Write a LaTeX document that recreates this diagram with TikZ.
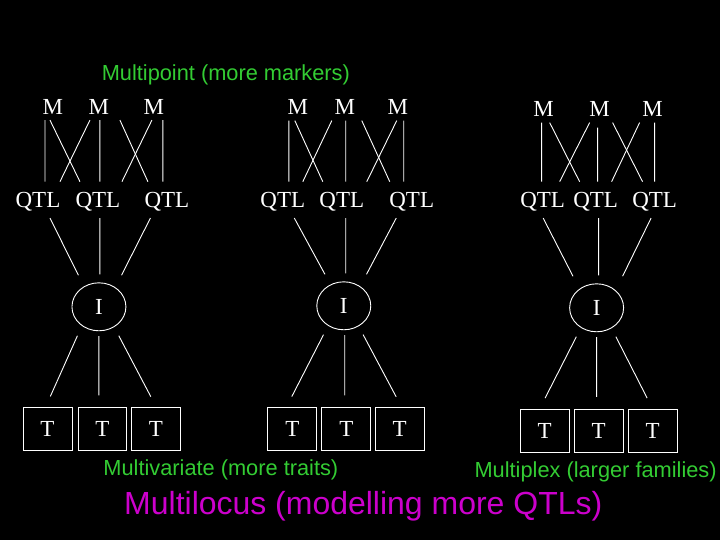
\documentclass[tikz,border=0pt]{standalone}
\usepackage{fontspec}
\setmainfont{Liberation Serif}
\newfontfamily\labelfont{Liberation Sans}
\usepackage{xcolor}
\usetikzlibrary{shapes.geometric}
\definecolor{labelgreen}{RGB}{51,204,51}
\definecolor{titlemagenta}{RGB}{204,0,204}

\begin{document}
\begin{tikzpicture}[
  x=1bp, y=-1bp,
  every node/.style={text=white, font=\fontsize{23bp}{27bp}\selectfont},
  marker/.style={inner xsep=2bp, inner ysep=5.5bp, text height=15bp, text depth=0bp},
  qtl/.style={inner xsep=2bp, inner ysep=10.5bp, text height=15bp, text depth=0bp},
  index/.style={
    draw=white, ellipse, line width=0.9bp, inner sep=0pt,
    minimum width=54bp, minimum height=48bp
  },
  trait/.style={
    draw=white, rectangle, line width=0.9bp, inner sep=0pt,
    minimum width=49bp, minimum height=43bp
  },
  link/.style={draw=white, line width=0.9bp},
  uplink/.style={link, shorten >=8bp},
  downlink/.style={link, shorten <=5bp, shorten >=12bp},
  caption/.style={anchor=base, text=labelgreen, font=\labelfont\fontsize{21.8bp}{26bp}\selectfont},
  title/.style={anchor=base, text=titlemagenta, font=\labelfont\fontsize{32bp}{38bp}\selectfont}
]
  \fill[black] (0,0) rectangle (720,540);

  \node[caption] (multipoint) at (226,81) {Multipoint (more markers)};
  \node[caption] (multivariate) at (221,476) {Multivariate (more traits)};
  \node[caption] (multiplex) at (596,478) {Multiplex (larger families)};
  \node[title] (multilocus) at (363.5,515) {Multilocus (modelling more QTLs)};

  \node[marker] (ma1) at (53,107) {M};
  \node[marker] (ma2) at (99,107) {M};
  \node[marker] (ma3) at (154,107) {M};
  \node[qtl] (qa1) at (38,200) {QTL};
  \node[qtl] (qa2) at (98,200) {QTL};
  \node[qtl] (qa3) at (167,200) {QTL};
  \node[index] (ia) at (99,307) {I};
  \node[trait] (ta1) at (47.5,429.5) {T};
  \node[trait] (ta2) at (102.5,429.5) {T};
  \node[trait] (ta3) at (156,429.5) {T};

  \draw[link] ([xshift=-8bp]ma1.south) -- ([xshift=7bp]qa1.north);
  \draw[link] ([xshift=-3bp]ma1.south) -- ([xshift=-18bp]qa2.north);
  \draw[link] ([xshift=-9bp]ma2.south) -- ([xshift=22bp]qa1.north);
  \draw[link] ([xshift=1bp]ma2.south) -- ([xshift=2bp]qa2.north);
  \draw[link] ([xshift=21bp]ma2.south) -- ([xshift=-19bp]qa3.north);
  \draw[link] ([xshift=-2bp]ma3.south) -- ([xshift=24bp]qa2.north);
  \draw[link] ([xshift=9bp]ma3.south) -- ([xshift=-4bp]qa3.north);
  \draw[uplink] ([xshift=12bp]qa1.south) -- ([xshift=-17bp]ia.north);
  \draw[uplink] ([xshift=2bp]qa2.south) -- ([xshift=1bp]ia.north);
  \draw[uplink] ([xshift=-16.5bp]qa3.south) -- ([xshift=19bp]ia.north);
  \draw[downlink] ([xshift=-19.5bp]ia.south) -- ([xshift=-2bp]ta1.north);
  \draw[downlink] (ia.south) -- ([xshift=-3.5bp]ta2.north);
  \draw[downlink] ([xshift=17.5bp]ia.south) -- ([xshift=0.5bp]ta3.north);

  \node[marker] (mb1) at (298,107.5) {M};
  \node[marker] (mb2) at (345,107.5) {M};
  \node[marker] (mb3) at (398,107.5) {M};
  \node[qtl] (qb1) at (283,200) {QTL};
  \node[qtl] (qb2) at (342,200) {QTL};
  \node[qtl] (qb3) at (412,200) {QTL};
  \node[index] (ib) at (344,306) {I};
  \node[trait] (tb1) at (292.5,429.5) {T};
  \node[trait] (tb2) at (346.5,429.5) {T};
  \node[trait] (tb3) at (400,429.5) {T};

  \draw[link] ([xshift=-9bp]mb1.south) -- ([xshift=6bp]qb1.north);
  \draw[link] ([xshift=-3bp]mb1.south) -- ([xshift=-19bp]qb2.north);
  \draw[link] ([xshift=-13bp]mb2.south) -- ([xshift=20bp]qb1.north);
  \draw[link] ([xshift=1bp]mb2.south) -- ([xshift=4bp]qb2.north);
  \draw[link] ([xshift=17bp]mb2.south) -- ([xshift=-22bp]qb3.north);
  \draw[link] ([xshift=-1bp]mb3.south) -- ([xshift=25bp]qb2.north);
  \draw[link] ([xshift=6bp]mb3.south) -- ([xshift=-8bp]qb3.north);
  \draw[uplink] ([xshift=11.5bp]qb1.south) -- ([xshift=-15bp]ib.north);
  \draw[uplink] ([xshift=4bp]qb2.south) -- ([xshift=2bp]ib.north);
  \draw[uplink] ([xshift=-15.5bp]qb3.south) -- ([xshift=19bp]ib.north);
  \draw[downlink] ([xshift=-18bp]ib.south) -- ([xshift=-6bp]tb1.north);
  \draw[downlink] ([xshift=1bp]ib.south) -- ([xshift=-1.5bp]tb2.north);
  \draw[downlink] ([xshift=17bp]ib.south) -- ([xshift=2bp]tb3.north);

  \node[marker] (mc1) at (544,109.5) {M};
  \node[marker] (mc2) at (600,109.5) {M};
  \node[marker] (mc3) at (653,109.5) {M};
  \node[qtl] (qc1) at (543,200) {QTL};
  \node[qtl] (qc2) at (596,200) {QTL};
  \node[qtl] (qc3) at (655,200) {QTL};
  \node[index] (ic) at (597,308) {I};
  \node[trait] (tc1) at (545,431) {T};
  \node[trait] (tc2) at (599,431) {T};
  \node[trait] (tc3) at (653,431) {T};

  \draw[link] ([xshift=-2bp]mc1.south) -- ([xshift=-1bp]qc1.north);
  \draw[link] ([xshift=6bp]mc1.south) -- ([xshift=-16bp]qc2.north);
  \draw[link] ([xshift=-10bp]mc2.south) -- ([xshift=17bp]qc1.north);
  \draw[link, shorten <=5bp] ([xshift=-2bp]mc2.south) -- ([xshift=2bp]qc2.north);
  \draw[link] ([xshift=13bp]mc2.south) -- ([xshift=-12bp]qc3.north);
  \draw[link] ([xshift=-13bp]mc3.south) -- ([xshift=16bp]qc2.north);
  \draw[link] ([xshift=2bp]mc3.south) -- (qc3.north);
  \draw[uplink] ([xshift=0.5bp]qc1.south) -- ([xshift=-20bp]ic.north);
  \draw[uplink] ([xshift=3bp]qc2.south) -- ([xshift=2bp]ic.north);
  \draw[uplink] ([xshift=-3.5bp]qc3.south) -- ([xshift=22.5bp]ic.north);
  \draw[downlink] ([xshift=-18bp]ic.south) -- ([xshift=-5bp]tc1.north);
  \draw[downlink] (ic.south) -- ([xshift=-2bp]tc2.north);
  \draw[downlink] ([xshift=17bp]ic.south) -- (tc3.north);
\end{tikzpicture}
\end{document}
